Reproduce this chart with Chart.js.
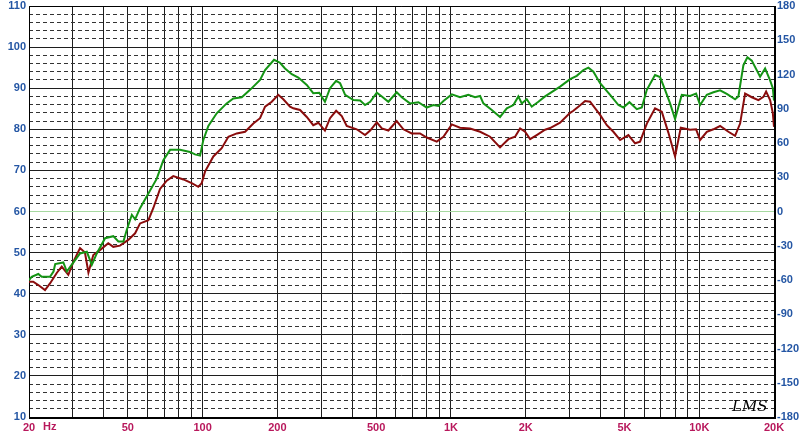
<!DOCTYPE html>
<html>
<head>
<meta charset="utf-8">
<script src="https://cdn.jsdelivr.net/npm/chart.js@4.4.1/dist/chart.umd.min.js"></script>
<style>
body{margin:0;background:#fff;}
</style>
</head>
<body>
<canvas id="myChart" width="808" height="438"></canvas>
<script>
// grid frequencies and the ones that get a label
const freqGrid = [20,30,40,50,60,70,80,90,100,200,300,400,500,600,700,800,900,1000,2000,3000,4000,5000,6000,7000,8000,9000,10000,20000];
const freqLabels = {20:'20',50:'50',100:'100',200:'200',500:'500',1000:'1K',2000:'2K',5000:'5K',10000:'10K',20000:'20K'};

// green curve (upper)
const greenFreq = [20,20.5,21.8,22.5,24.3,25.1,25.5,27.5,28.4,29.7,
  32.1,34.2,35.8,37.5,40.5,43.7,45.8,48,49.5,51.9,
  53.5,56,60.5,65.4,69.5,74,81.1,89,93.2,97.7,
  100.7,105.5,114,125,133,143.8,155.3,170.4,178.5,194,
  205,214.8,228.6,243,262.8,279,295,311,326,345,
  358,375,405,431,451,473,503,527,560,605,
  634,684,740,799,850,890,933,1008,1088,1175,
  1251,1311,1351,1461,1577,1679,1785,1869,1929,2020,
  2116,2250,2394,2508,2752,3020,3212,3416,3578,3748,
  3988,4376,4726,4950,5234,5606,5872,6150,6638,6954,
  7284,7630,7992,8506,9186,9712,10080,10726,11404,12132,
  12910,13940,14374,15060,15630,16280,17580,18416,19290,19780,
  20000];
const greenDb = [43.3,44.1,44.8,44.1,44.1,45.4,47.2,47.6,45.4,47,
  49.8,50.2,47,49.8,53.5,54,52.7,52.7,55.5,59.2,
  58.1,60.8,64.4,68,72.5,75,75,74.5,73.9,73.6,
  77.4,80.8,83.9,86.3,87.5,87.8,89.6,92,94.4,96.9,
  96.2,94.8,93.4,92.6,90.8,88.8,88.9,86.7,90,91.8,
  91.2,88.4,87.1,87,85.9,86.7,88.9,88,86.7,89,
  87.8,86.3,86.6,85.3,85.9,85.7,86.9,88.5,87.8,88.4,
  87.8,88.1,86.3,84.7,83,85.1,85.9,88,86.3,87.3,
  85.5,86.7,88,88.8,90.4,92.2,93,94.4,95,94,
  91.2,88.4,85.9,85.3,86.6,84.9,85.3,89.6,93.2,92.7,
  89.6,86.3,82.5,88.4,88.1,88.7,85.9,88.4,89,89.5,
  88.6,87.3,88,95.6,97.5,96.7,92.8,94.8,91.9,90,
  87];

// red curve (lower)
const redFreq = [20,20.8,21.8,23.2,24.3,25.9,27.1,28.8,30.2,32.1,
  33.6,34.7,36.3,38.6,41.7,43.7,46.5,50.2,53.5,56,
  60.5,63.3,67.4,71.7,76.2,83.7,90.4,96.1,99.2,102.3,
  110.5,119.4,127,137.3,148.3,160.1,170.4,178.5,189.9,201.8,
  211.4,225,232,246.8,262.8,279,292.6,311,326,345,
  363.5,380.6,417.6,451,473,503,527,560,605,643.6,
  695.4,751,799,877,933,1008,1088,1194,1311,1438,
  1577,1704,1813,1899,1989,2084,2216,2394,2508,2752,
  3020,3112,3260,3470,3634,3988,4244,4510,4800,5184,
  5516,5776,6150,6638,7066,7510,7992,8426,9186,9712,
  10080,10726,11404,12132,13106,13940,14606,15298,16280,17306,
  18128,18588,19290,19780,20000];
const redDb = [42.9,42.9,42.1,40.9,42.5,45.1,46.6,44.6,47.8,51.1,
  50,45.1,49.4,50.6,52.3,51.4,51.7,53.1,54.7,57.1,
  57.9,60.8,65.5,67.5,68.6,67.8,66.9,66,66.9,69.7,
  73.4,75.4,78.2,79,79.4,81.4,82.7,85.5,86.7,88.4,
  87.3,85.5,85.1,84.7,83,81,81.6,79.7,82.7,84.5,
  83.2,80.8,80,78.6,79.7,81.7,80.2,79.7,82,80,
  79,79,78,77,78.2,81.2,80.4,80.2,79.4,78.2,
  75.6,77.6,78.2,80.2,79.4,77.6,78.6,79.9,80.3,81.6,
  84,84.5,85.5,86.9,86.7,83.5,81,79.4,77.4,78.6,
  76.6,77,81.4,85.1,84.3,79.2,73.4,80.4,79.9,80,
  77.4,79.4,80,80.8,79.4,78.4,81.4,88.7,87.8,87.1,
  87.9,89.2,87.1,84,80.6];

const labelFont = {family: 'Liberation Sans', size: 11, weight: 'bold'};

// frame round the plot, the "Hz" unit and the LMS mark
const frame = {
  id: 'frame',
  beforeDatasetsDraw(chart) {
    const {ctx, chartArea: a} = chart;
    ctx.save();
    ctx.strokeStyle = '#000';
    ctx.lineWidth = 1;
    ctx.beginPath();
    ctx.moveTo(a.left + 0.5, a.bottom);
    ctx.lineTo(a.left + 0.5, a.top + 0.5);
    ctx.lineTo(a.right, a.top + 0.5);
    ctx.stroke();
    ctx.lineWidth = 2;
    ctx.beginPath();
    ctx.moveTo(a.left, a.bottom + 1);
    ctx.lineTo(a.right + 1, a.bottom + 1);
    ctx.lineTo(a.right + 1, a.top);
    ctx.stroke();
    ctx.restore();
  },
  afterDraw(chart) {
    const {ctx, chartArea: a} = chart;
    ctx.save();
    ctx.fillStyle = '#b8185c';
    ctx.font = 'bold 11px "Liberation Sans"';
    ctx.textBaseline = 'top';
    ctx.fillText('Hz', a.left + 14, a.bottom + 4);
    ctx.fillStyle = '#000';
    ctx.font = 'italic 15px "DejaVu Serif"';
    ctx.textBaseline = 'alphabetic';
    ctx.fillText('LMS', a.right - 42, a.bottom - 6);
    ctx.restore();
  }
};

const ctx = document.getElementById('myChart').getContext('2d');
const myChart = new Chart(ctx, {
  type: 'line',
  data: {
    datasets: [{
      data: greenFreq.map((f, i) => ({x: f, y: greenDb[i]})),
      borderColor: '#149414',
      borderWidth: 2,
      pointRadius: 0,
      tension: 0
    }, {
      data: redFreq.map((f, i) => ({x: f, y: redDb[i]})),
      borderColor: '#8a0c0c',
      borderWidth: 2,
      pointRadius: 0,
      tension: 0
    }]
  },
  options: {
    responsive: false,
    animation: false,
    layout: {padding: {top: 6, left: 0, right: 0, bottom: 0}},
    plugins: {legend: {display: false}, tooltip: {enabled: false}},
    scales: {
      x: {
        type: 'logarithmic',
        min: 20,
        max: 20000,
        afterBuildTicks: s => { s.ticks = freqGrid.map(v => ({value: v})); },
        afterFit: s => { s.height = 21; s.paddingLeft = 0; s.paddingRight = 0; },
        grid: {color: '#1e1e1e', drawTicks: false},
        border: {display: false},
        ticks: {
          autoSkip: false,
          maxRotation: 0,
          padding: 4,
          color: '#b8185c',
          font: labelFont,
          callback: v => freqLabels[v] || ''
        }
      },
      y: {
        position: 'left',
        min: 10,
        max: 110,
        afterFit: s => { s.width = 29; s.paddingTop = 0; s.paddingBottom = 0; },
        grid: {
          drawTicks: false,
          color: c => c.tick.value === 60 ? '#a6d9a0' : '#1e1e1e'
        },
        border: {display: false},
        ticks: {stepSize: 10, padding: 3, color: '#2456a4', font: labelFont}
      },
      yMinor: {
        position: 'left',
        min: 10,
        max: 110,
        afterFit: s => { s.width = 0; s.paddingTop = 0; s.paddingBottom = 0; },
        grid: {
          drawTicks: false,
          color: c => Math.round(c.tick.value) % 10 === 0 ? 'rgba(0,0,0,0)' : '#333'
        },
        border: {display: false, dash: [4, 3]},
        ticks: {stepSize: 2, display: false}
      },
      y1: {
        position: 'right',
        min: -180,
        max: 180,
        afterFit: s => { s.width = 34; s.paddingTop = 0; s.paddingBottom = 0; },
        grid: {display: false, drawTicks: false},
        border: {display: false},
        ticks: {stepSize: 30, padding: 3, color: '#2456a4', font: labelFont}
      }
    }
  },
  plugins: [frame]
});
</script>
</body>
</html>
